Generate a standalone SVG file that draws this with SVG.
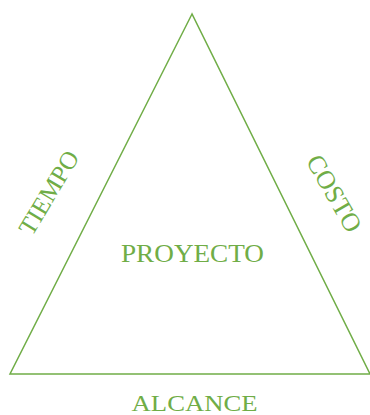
<svg xmlns="http://www.w3.org/2000/svg" width="370" height="415" viewBox="0 0 370 415">
<style>
.edge{fill:none;stroke:#70AD47;stroke-width:1.5}
.lbl{font-family:"Liberation Serif","Times New Roman",serif;fill:#70AD47;text-anchor:middle}
</style>
<rect width="370" height="415" fill="#ffffff"/>
<g id="connectors">
<polygon class="edge" points="192,14 10,374 370,374"/>
</g>
<g id="proyecto"><text class="lbl" x="192.5" y="262" font-size="26" textLength="143" lengthAdjust="spacingAndGlyphs">PROYECTO</text></g>
<g id="alcance"><text class="lbl" x="194.6" y="411" font-size="23" textLength="126" lengthAdjust="spacingAndGlyphs">ALCANCE</text></g>
<g id="tiempo"><text class="lbl" font-size="25" transform="translate(56,197) rotate(-59)">TIEMPO</text></g>
<g id="costo"><text class="lbl" font-size="26" transform="translate(326.6,197.8) rotate(60)">COSTO</text></g>
</svg>
